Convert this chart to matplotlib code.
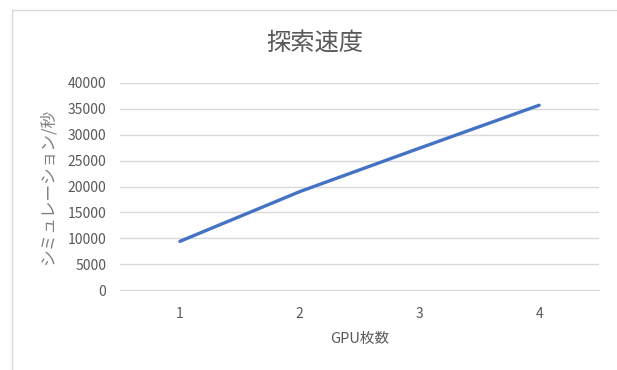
import matplotlib
matplotlib.use("Agg")
import matplotlib.pyplot as plt
from matplotlib.patches import Rectangle

plt.rcParams['font.family'] = ['Noto Sans CJK JP', 'DejaVu Sans']

gpus = [1, 2, 3, 4]
speed = [9400, 19000, 27400, 35700]
yticks = [0, 5000, 10000, 15000, 20000, 25000, 30000, 35000, 40000]

W, H = 617, 370
fig = plt.figure(figsize=(W / 100, H / 100), dpi=100)
fig.patch.set_facecolor('white')

# outer chart frame (cut off at right and bottom)
fig.patches.append(Rectangle((12 / W, -0.1), 1.2, 1 - 10 / H + 0.1,
                             transform=fig.transFigure, fill=False,
                             edgecolor='#d9d9d9', linewidth=1.0))

ax = fig.add_axes([120 / W, 1 - 290 / H, 479 / W, 207 / H])
ax.plot(gpus, speed, color='#4472C4', linewidth=2.4, solid_capstyle='round')
ax.set_xlim(0.5, 4.5)
ax.set_ylim(0, 40000)
ax.set_yticks(yticks)
ax.set_yticklabels([str(v) for v in yticks])
ax.set_xticks(gpus)
ax.grid(axis='y', color='#d9d9d9', linewidth=1.0)
ax.set_axisbelow(True)
for s in ['top', 'right', 'left']:
    ax.spines[s].set_visible(False)
ax.spines['bottom'].set_color('#d9d9d9')
ax.tick_params(axis='both', length=0, colors='#595959', labelsize=10)
ax.tick_params(axis='y', pad=10)
ax.tick_params(axis='x', pad=12)

ax.set_xlabel('GPU枚数', color='#595959', fontsize=10.5, labelpad=8)
ax.set_ylabel('シミュレーション/秒', color='#7f7f7f', fontsize=12, labelpad=8)
fig.text(315 / W, 1 - 43 / H, '探索速度', ha='center', va='center',
         fontsize=17.5, color='#595959')

fig.savefig('out.png', dpi=100)
